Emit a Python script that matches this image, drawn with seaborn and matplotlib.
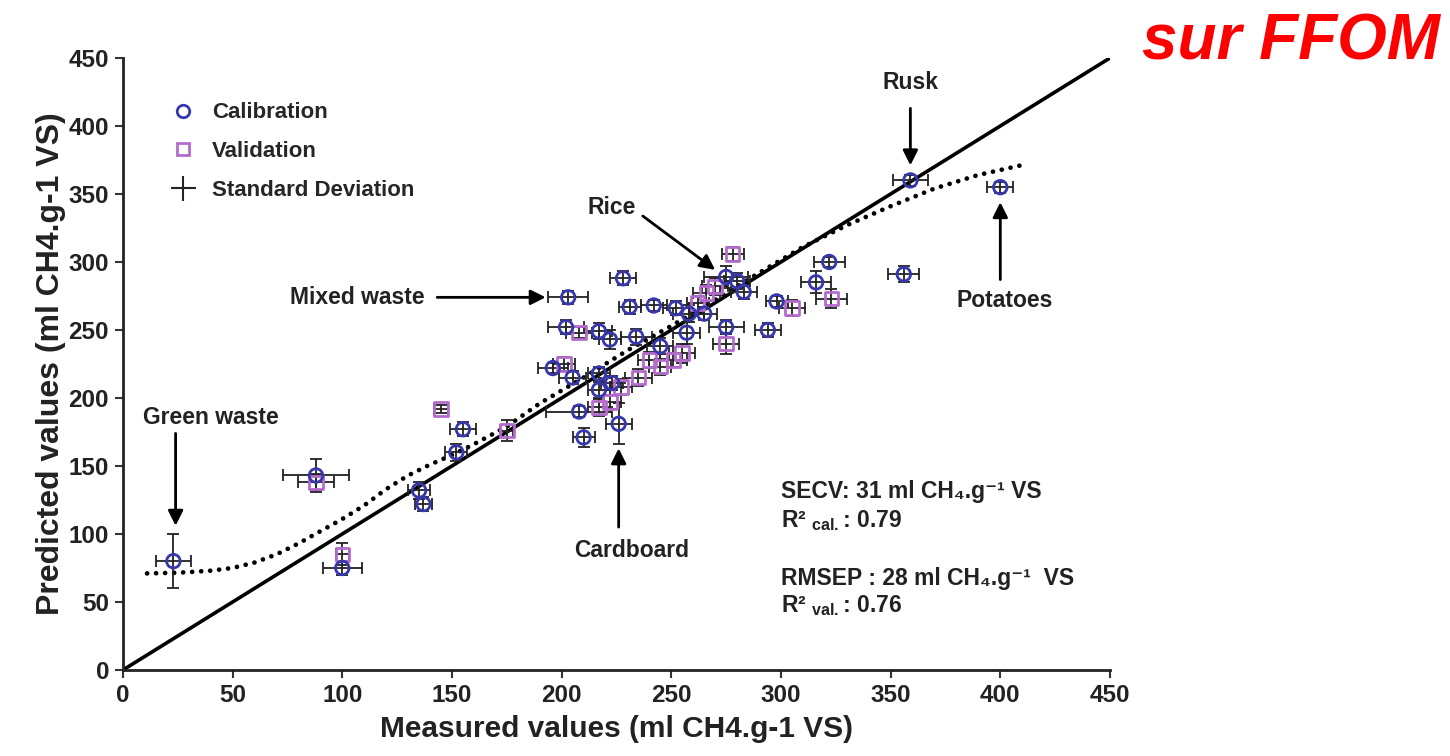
import matplotlib
matplotlib.use("Agg")
import matplotlib.pyplot as plt
import seaborn as sns
import numpy as np
import pandas as pd
from matplotlib.lines import Line2D

# ---------------- data ----------------
cal_x = [23, 100, 88, 135, 137, 152, 155, 203, 228, 275, 280, 359, 400, 356, 322, 316,
         298, 283, 231, 242, 252, 258, 202, 217, 234, 257, 275, 294, 222, 245, 196, 205,
         217, 223, 217, 208, 226, 210, 265]
cal_y = [80, 75, 143, 132, 122, 160, 177, 274, 288, 289, 286, 360, 355, 291, 300, 285,
         271, 278, 267, 268, 266, 262, 252, 249, 245, 248, 252, 250, 243, 238, 222, 215,
         218, 211, 206, 190, 181, 171, 262]
cal_xerr = [8, 9, 15, 5, 4, 5, 6, 9, 6, 10, 6, 8, 6, 7, 7, 7,
            5, 6, 5, 6, 6, 7, 8, 6, 7, 6, 8, 6, 5, 6, 7, 6,
            5, 5, 5, 15, 6, 5, 6]
cal_yerr = [20, 5, 12, 6, 5, 6, 5, 5, 5, 8, 6, 4, 4, 6, 4, 8,
            4, 5, 5, 4, 5, 6, 5, 6, 6, 8, 5, 5, 7, 6, 4, 5,
            5, 5, 6, 4, 15, 7, 5]

val_x = [100, 88, 145, 175, 278, 266, 323, 305, 208, 275, 255, 240, 201, 245, 251, 227,
         217, 222, 235, 262, 270]
val_y = [85, 138, 192, 176, 306, 277, 273, 266, 248, 240, 233, 228, 225, 223, 228, 208,
         193, 197, 215, 270, 282]
val_xerr = [3, 8, 3, 3, 5, 6, 7, 6, 6, 6, 6, 5, 5, 5, 6, 5, 5, 5, 6, 5, 6]
val_yerr = [8, 6, 3, 8, 5, 6, 7, 6, 4, 8, 7, 6, 5, 6, 5, 6, 6, 5, 6, 5, 6]

fit_x = [11, 25, 40, 50, 60, 70, 80, 90, 100, 110, 120, 130, 140, 150, 160, 175, 190,
         210, 230, 250, 270, 290, 310, 330, 350, 370, 390, 412]
fit_y = [71, 71.5, 73, 75, 79, 85, 93, 102, 111, 121, 133, 143, 151, 158, 166, 179, 196,
         215, 235, 253, 272, 292, 311, 327, 341, 354, 364, 372]

ident = [0, 450]

ticks = [0, 50, 100, 150, 200, 250, 300, 350, 400, 450]

# ---------------- style ----------------
sns.set_style("ticks")
plt.rcParams['font.family'] = ['Liberation Sans', 'DejaVu Sans']
plt.rcParams['font.weight'] = 'bold'
plt.rcParams['mathtext.fontset'] = 'custom'
plt.rcParams['mathtext.rm'] = 'Liberation Sans'
plt.rcParams['mathtext.bf'] = 'Liberation Sans:bold'

BLUE = "#3636ad"
PURPLE = "#b46ccc"
INK = "#222222"

fig = plt.figure(figsize=(14.5, 7.56), dpi=100)
ax = fig.add_axes([0.0848, 0.1138, 0.6807, 0.8095])

cal = pd.DataFrame({"x": cal_x, "y": cal_y})
val = pd.DataFrame({"x": val_x, "y": val_y})
fit = pd.DataFrame({"x": fit_x, "y": fit_y})
idl = pd.DataFrame({"x": ident, "y": ident})

# identity line
sns.lineplot(data=idl, x="x", y="y", ax=ax, color="black", lw=2.6, zorder=2)
# fitted dotted curve
sns.lineplot(data=fit, x="x", y="y", ax=ax, color="black", lw=3.4,
             linestyle=(0, (0.01, 1.9)), dash_capstyle="round", zorder=2)

# error bars
ax.errorbar(val_x, val_y, xerr=val_xerr, yerr=val_yerr, fmt="none",
            ecolor=INK, elinewidth=1.3, capsize=4, capthick=1.3, zorder=3)
ax.errorbar(cal_x, cal_y, xerr=cal_xerr, yerr=cal_yerr, fmt="none",
            ecolor=INK, elinewidth=1.3, capsize=4, capthick=1.3, zorder=3)

sns.scatterplot(data=val, x="x", y="y", ax=ax, marker="s", s=95,
                facecolor="none", edgecolor=PURPLE, linewidth=2, zorder=4)
sns.scatterplot(data=cal, x="x", y="y", ax=ax, marker="o", s=95,
                facecolor="none", edgecolor=BLUE, linewidth=2, zorder=5)

ax.set_xlim(0, 450)
ax.set_ylim(0, 450)
ax.set_xticks(ticks)
ax.set_yticks(ticks)
ax.set_xticklabels([str(t) for t in ticks], fontsize=17.5, fontweight="bold", color=INK)
ax.set_yticklabels([str(t) for t in ticks], fontsize=17.5, fontweight="bold", color=INK)
ax.tick_params(axis="both", length=6, width=1.5, color="#333333", pad=4)
for s in ["top", "right"]:
    ax.spines[s].set_visible(False)
for s in ["left", "bottom"]:
    ax.spines[s].set_linewidth(2)
    ax.spines[s].set_color(INK)

ax.set_xlabel("Measured values (ml CH4.g-1 VS)", fontsize=21.5, fontweight="bold",
              color=INK, labelpad=6)
ax.set_ylabel("Predicted values (ml CH4.g-1 VS)", fontsize=23, fontweight="bold",
              color=INK, labelpad=2)

# annotations
akw = dict(arrowstyle="-|>,head_length=0.9,head_width=0.45", color="black", lw=2)
tkw = dict(fontsize=16.5, fontweight="bold", color=INK, ha="center", va="center")
ax.annotate("", xy=(359, 369), xytext=(359, 415), arrowprops=akw)
ax.text(359, 432, "Rusk", **tkw)
ax.annotate("", xy=(400, 346), xytext=(400, 285), arrowprops=akw)
ax.text(402, 272, "Potatoes", **tkw)
ax.annotate("", xy=(271, 293), xytext=(236, 335), arrowprops=akw)
ax.text(223, 340, "Rice", **tkw)
ax.annotate("", xy=(194, 274), xytext=(142, 274), arrowprops=akw)
ax.text(107, 274, "Mixed waste", **tkw)
ax.annotate("", xy=(24, 104), xytext=(24, 176), arrowprops=akw)
ax.text(40, 186, "Green waste", **tkw)
ax.annotate("", xy=(226, 165), xytext=(226, 103), arrowprops=akw)
ax.text(232, 88, "Cardboard", **tkw)

skw = dict(fontsize=16.5, fontweight="bold", color=INK, ha="left", va="center")
ax.text(300, 131, "SECV: 31 ml CH\u2084.g\u207b\u00b9 VS", **skw)
ax.text(300, 110, r"R² $_\mathbf{cal.}$: 0.79", **skw)
ax.text(300, 67, "RMSEP : 28 ml CH\u2084.g\u207b\u00b9  VS", **skw)
ax.text(300, 47, r"R² $_\mathbf{val.}$: 0.76", **skw)

# legend
handles = [
    Line2D([], [], marker="o", ls="none", mfc="none", mec=BLUE, mew=2, ms=9),
    Line2D([], [], marker="s", ls="none", mfc="none", mec=PURPLE, mew=2, ms=9),
    Line2D([], [], marker="+", ls="none", color=INK, mew=1.5, ms=18),
]
ax.legend(handles, ["Calibration", "Validation", "Standard Deviation"],
          loc="upper left", bbox_to_anchor=(0.025, 0.96), frameon=False,
          prop=dict(size=16, weight="bold"), labelspacing=0.8, handletextpad=0.6,
          handlelength=1.4)

fig.text(1291 / 1450, 1 - 42 / 756, "sur FFOM", color="#ff0000", fontsize=46,
         fontweight="bold", fontstyle="italic", ha="center", va="center")

fig.savefig("out.png", dpi=100)
